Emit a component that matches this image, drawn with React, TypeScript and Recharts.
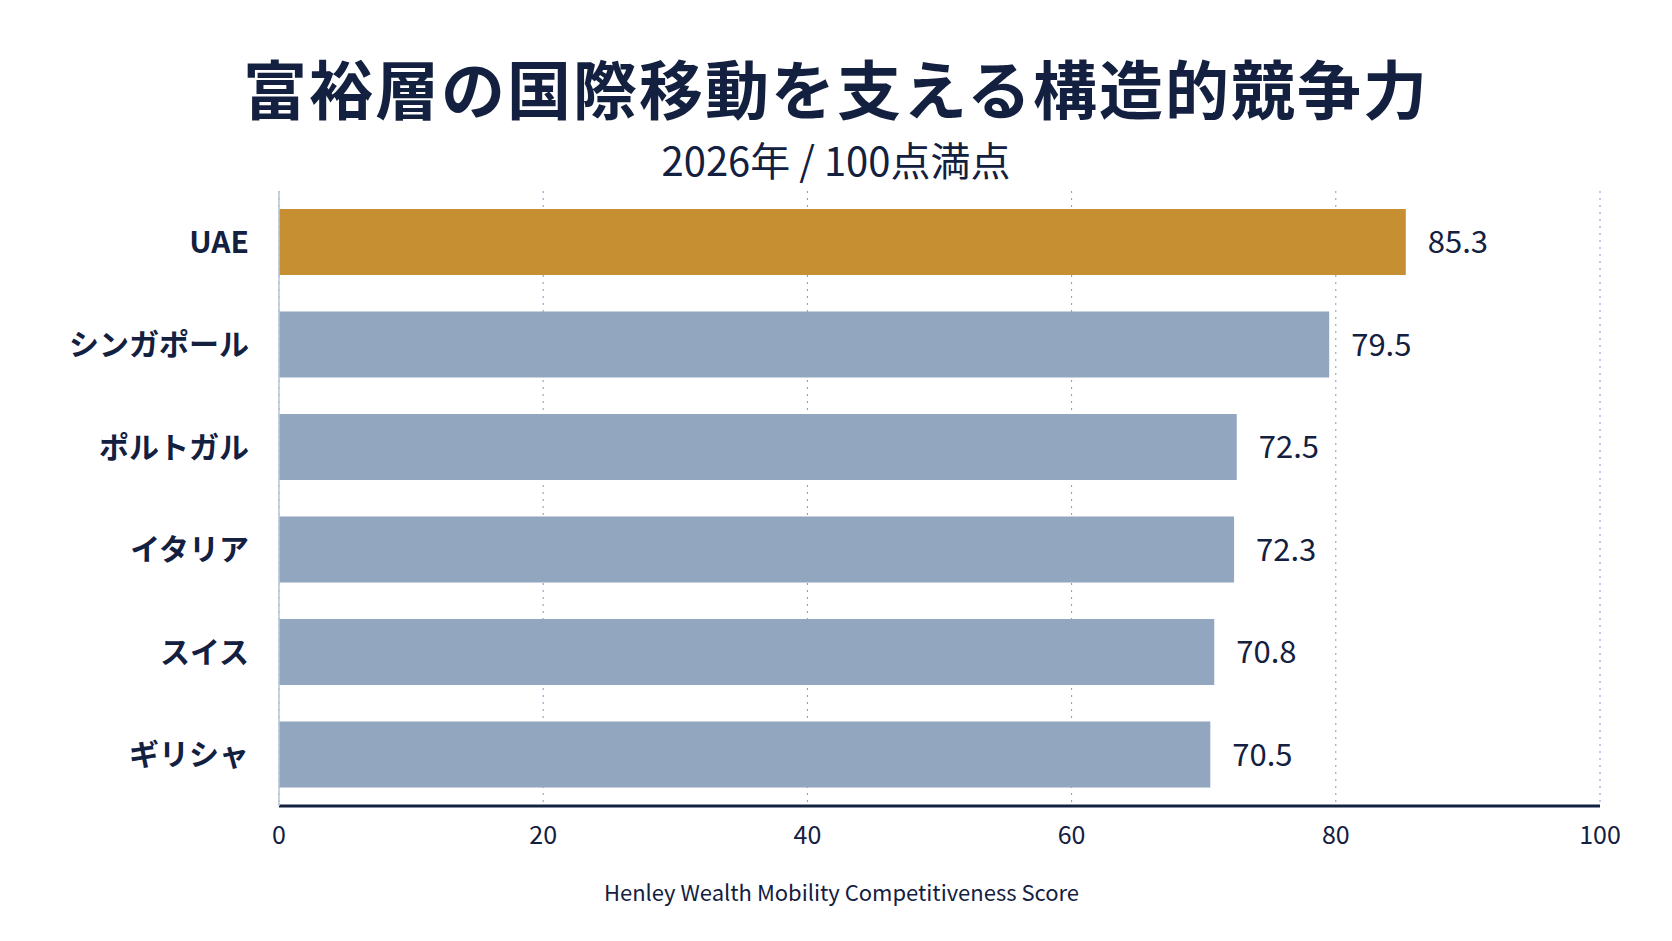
import { BarChart, Bar, XAxis, YAxis, CartesianGrid, Cell, LabelList } from 'recharts';

const countries = ['UAE', 'シンガポール', 'ポルトガル', 'イタリア', 'スイス', 'ギリシャ'];
const scores = [85.3, 79.5, 72.5, 72.3, 70.8, 70.5];
const xTicks = [0, 20, 40, 60, 80, 100];

const data = countries.map((name, i) => ({ name, score: scores[i] }));
const font = '"Noto Sans CJK JP", "Noto Sans", sans-serif';
const navy = '#13203f';

export default function App() {
  return (
    <div style={{ position: 'absolute', left: 0, top: 0, width: 1672, height: 941, background: '#fff', fontFamily: font }}>
      <div style={{ position: 'absolute', top: 40, width: '100%', textAlign: 'center', fontSize: 64, fontWeight: 700, color: navy, letterSpacing: 2 }}>
        富裕層の国際移動を支える構造的競争力
      </div>
      <div style={{ position: 'absolute', top: 130, width: '100%', textAlign: 'center', fontSize: 40, color: navy }}>
        2026年 / 100点満点
      </div>
      <BarChart
        width={1672}
        height={941}
        data={data}
        layout="vertical"
        margin={{ top: 191, right: 72, bottom: 0, left: 0 }}
        barCategoryGap={34}
        style={{ position: 'absolute', left: 0, top: 0 }}
      >
        <CartesianGrid horizontal={false} strokeDasharray="2 5" stroke="#7f98c8" />
        <XAxis
          type="number"
          domain={[0, 100]}
          ticks={xTicks}
          tick={{ fill: navy, fontSize: 25, fontFamily: font, dy: 12 }}
          tickLine={false}
          axisLine={{ stroke: navy, strokeWidth: 3 }}
          label={{ value: 'Henley Wealth Mobility Competitiveness Score', position: 'insideBottom', offset: 40, fill: navy, fontSize: 22, fontFamily: font, dx: -98 }}
          height={135}
        />
        <YAxis
          type="category"
          dataKey="name"
          tick={{ fill: navy, fontSize: 30, fontWeight: 700, fontFamily: font, dx: -22 }}
          tickLine={false}
          axisLine={{ stroke: '#b8c4d8', strokeWidth: 1.5 }}
          width={279}
        />
        <Bar dataKey="score" barSize={66} isAnimationActive={false}>
          {data.map((d, i) => (
            <Cell key={d.name} fill={i === 0 ? '#c69032' : '#92a6bf'} />
          ))}
          <LabelList dataKey="score" position="right" offset={22} fill={navy} fontSize={31} fontFamily={font} formatter={(v: number) => v.toFixed(1)} />
        </Bar>
      </BarChart>
    </div>
  );
}
